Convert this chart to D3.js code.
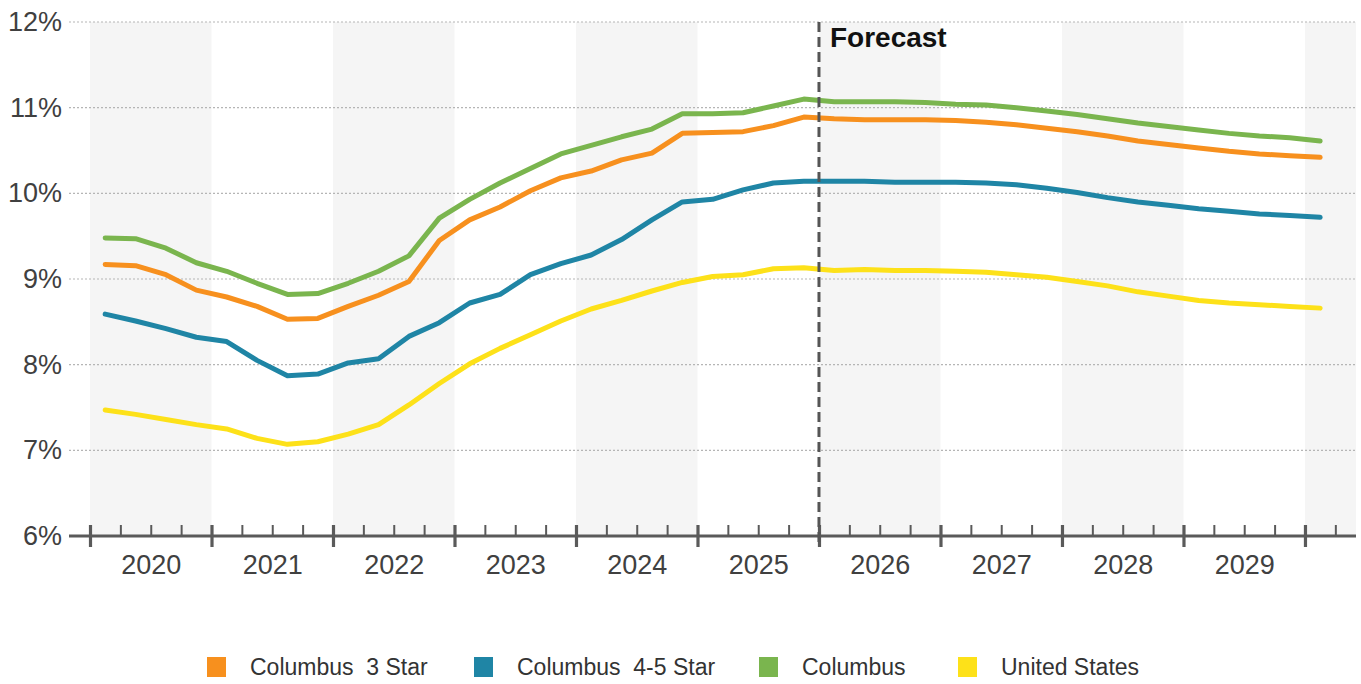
<!DOCTYPE html>
<html>
<head>
<meta charset="utf-8">
<script src="https://cdn.jsdelivr.net/npm/d3@7"></script>
<style>
  html, body { margin: 0; padding: 0; background: #fff; }
  svg { display: block; font-family: "Liberation Sans", Arial, sans-serif; }
</style>
</head>
<body>
<svg id="chart" width="1361" height="684"></svg>
<script>
// ---------- data ----------
const years = [2020, 2021, 2022, 2023, 2024, 2025, 2026, 2027, 2028, 2029];
const quarterLabels = ["Q1", "Q2", "Q3", "Q4"];
// 41 quarters: 2020 Q1 ... 2030 Q1
const periods = [];
years.concat([2030]).forEach(yr => quarterLabels.forEach((q, qi) => {
  if (yr < 2030 || qi === 0) periods.push({ year: yr, q: qi });
}));

const columbus3Star = [9.17, 9.155, 9.05, 8.87, 8.79, 8.68, 8.53, 8.54, 8.68, 8.81, 8.97, 9.45,
  9.69, 9.84, 10.03, 10.18, 10.26, 10.39, 10.47, 10.70, 10.71, 10.72, 10.79, 10.89,
  10.87, 10.86, 10.86, 10.86, 10.85, 10.83, 10.80, 10.76, 10.72, 10.67, 10.61, 10.57,
  10.53, 10.49, 10.46, 10.44, 10.42];
const columbus45Star = [8.59, 8.51, 8.42, 8.32, 8.27, 8.05, 7.87, 7.89, 8.02, 8.07, 8.33, 8.49,
  8.72, 8.82, 9.05, 9.18, 9.28, 9.46, 9.69, 9.90, 9.93, 10.04, 10.12, 10.14,
  10.14, 10.14, 10.13, 10.13, 10.13, 10.12, 10.10, 10.06, 10.01, 9.95, 9.90, 9.86,
  9.82, 9.79, 9.76, 9.74, 9.72];
const columbus = [9.48, 9.47, 9.36, 9.19, 9.09, 8.95, 8.82, 8.83, 8.95, 9.09, 9.27, 9.71,
  9.93, 10.12, 10.29, 10.46, 10.56, 10.66, 10.75, 10.93, 10.93, 10.94, 11.02, 11.10,
  11.07, 11.07, 11.07, 11.06, 11.04, 11.03, 11.00, 10.96, 10.92, 10.87, 10.82, 10.78,
  10.74, 10.70, 10.67, 10.65, 10.61];
const unitedStates = [7.47, 7.42, 7.36, 7.30, 7.25, 7.14, 7.07, 7.10, 7.19, 7.30, 7.53, 7.78,
  8.01, 8.19, 8.35, 8.51, 8.65, 8.75, 8.86, 8.96, 9.03, 9.05, 9.12, 9.13,
  9.10, 9.11, 9.10, 9.10, 9.09, 9.08, 9.05, 9.02, 8.97, 8.92, 8.85, 8.80,
  8.75, 8.72, 8.70, 8.68, 8.66];

const seriesNames = ["Columbus  3 Star", "Columbus  4-5 Star", "Columbus", "United States"];
const seriesColors = ["#f7901e", "#1f85a5", "#7ab54e", "#fde119"];
const seriesValues = [columbus3Star, columbus45Star, columbus, unitedStates];
const yTicks = [6, 7, 8, 9, 10, 11, 12];
const forecastStart = 2026;
const forecastLabel = "Forecast";

// ---------- layout ----------
const svg = d3.select("#chart");
const x = d3.scaleLinear().domain([2020, 2030.42]).range([90, 1356]);
const y = d3.scaleLinear().domain([6, 12]).range([536, 22]);
const gridLeft = 69, gridRight = 1356;
const tAt = p => p.year + (p.q + 0.5) / 4;

// alternating bands
svg.append("g").selectAll("rect")
  .data(years.concat([2030]).filter((d, i) => i % 2 === 0))
  .join("rect")
  .attr("x", d => x(d))
  .attr("width", d => Math.min(x(d + 1), gridRight) - x(d))
  .attr("y", y(12))
  .attr("height", y(6) - y(12))
  .attr("fill", "#f5f5f5");

// gridlines
svg.append("g").selectAll("line")
  .data(yTicks.filter(d => d > 6))
  .join("line")
  .attr("x1", gridLeft).attr("x2", gridRight)
  .attr("y1", d => y(d)).attr("y2", d => y(d))
  .attr("stroke", "#b5b5b5").attr("stroke-width", 1.2)
  .attr("stroke-dasharray", "2,2");

// y labels
const yAxis = svg.append("g")
  .attr("transform", `translate(${gridLeft},0)`)
  .call(d3.axisLeft(y).tickValues(yTicks).tickSize(0).tickPadding(7).tickFormat(d => d + "%"));
yAxis.select(".domain").remove();
yAxis.selectAll("text").attr("font-size", 27).attr("fill", "#404040")
  .attr("font-family", "Liberation Sans, Arial, sans-serif");

// x axis line
svg.append("line")
  .attr("x1", gridLeft).attr("x2", gridRight)
  .attr("y1", y(6)).attr("y2", y(6))
  .attr("stroke", "#5a5a5a").attr("stroke-width", 3);

// minor ticks (quarters)
const minorVals = [];
years.concat([2030]).forEach(yr => [0.25, 0.5, 0.75].forEach(f => {
  if (yr + f <= 2030.42) minorVals.push(yr + f);
}));
const minorAxis = svg.append("g")
  .attr("transform", `translate(0,${y(6)})`)
  .call(d3.axisTop(x).tickValues(minorVals).tickSize(11).tickFormat(""));
minorAxis.select(".domain").remove();
minorAxis.selectAll("line").attr("stroke", "#5a5a5a").attr("stroke-width", 2);

// major ticks (years)
const majorAxis = svg.append("g")
  .attr("transform", `translate(0,${y(6)})`)
  .call(d3.axisBottom(x).tickValues(years.concat([2030])).tickSize(11).tickFormat(""));
majorAxis.select(".domain").remove();
majorAxis.selectAll("line").attr("y1", -11).attr("stroke", "#5a5a5a").attr("stroke-width", 3.2);

// year labels
const labelAxis = svg.append("g")
  .attr("transform", `translate(0,${y(6)})`)
  .call(d3.axisBottom(x).tickValues(years.map(d => d + 0.5)).tickSize(0).tickPadding(19)
    .tickFormat(d => String(Math.floor(d))));
labelAxis.select(".domain").remove();
labelAxis.selectAll("text").attr("font-size", 27).attr("fill", "#404040")
  .attr("font-family", "Liberation Sans, Arial, sans-serif");

// lines
const line = d3.line()
  .x((d, i) => x(tAt(periods[i])))
  .y(d => y(d));
svg.append("g").selectAll("path")
  .data(seriesValues)
  .join("path")
  .attr("d", d => line(d))
  .attr("fill", "none")
  .attr("stroke", (d, i) => seriesColors[i])
  .attr("stroke-width", 5)
  .attr("stroke-linejoin", "round")
  .attr("stroke-linecap", "round");

// forecast line
svg.append("line")
  .attr("x1", x(forecastStart)).attr("x2", x(forecastStart))
  .attr("y1", y(12)).attr("y2", y(6) + 11)
  .attr("stroke", "#555").attr("stroke-width", 3)
  .attr("stroke-dasharray", "10,5");
svg.append("text")
  .attr("x", x(forecastStart) + 11).attr("y", 47)
  .attr("font-size", 28).attr("font-weight", "bold").attr("fill", "#111")
  .text(forecastLabel);

// legend
const legendX = [207, 474, 759, 958];
const lg = svg.append("g").selectAll("g")
  .data(seriesNames)
  .join("g")
  .attr("transform", (d, i) => `translate(${legendX[i]},657)`);
lg.append("rect").attr("width", 19).attr("height", 20)
  .attr("fill", (d, i) => seriesColors[i]);
lg.append("text").attr("x", 43).attr("y", 18)
  .attr("font-size", 23).attr("fill", "#333")
  .attr("xml:space", "preserve")
  .style("white-space", "pre")
  .text(d => d);
</script>
</body>
</html>
